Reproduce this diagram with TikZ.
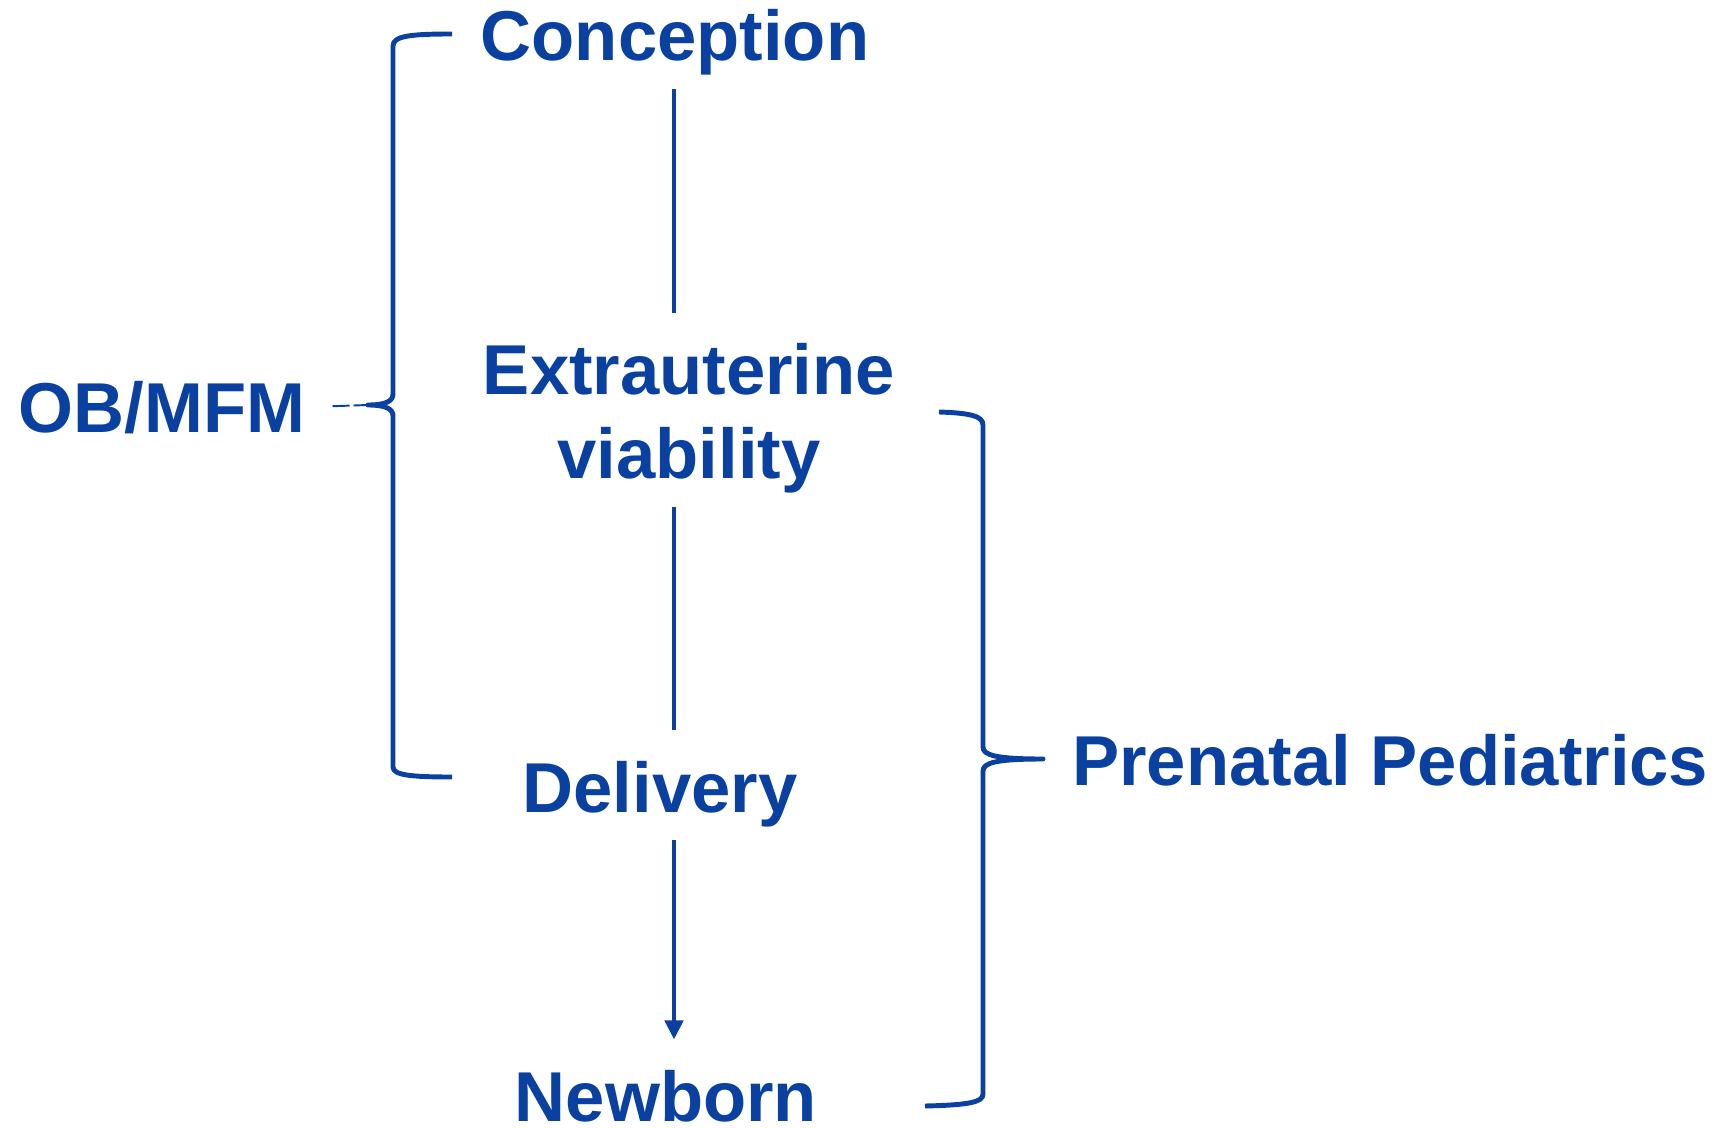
\documentclass[tikz,border=0pt]{standalone}
\usepackage{fontspec}
\setmainfont{Liberation Sans}
\usetikzlibrary{arrows.meta}
\definecolor{obblue}{RGB}{10,65,160}

\begin{document}
\begin{tikzpicture}[x=0.02cm, y=-0.02cm]
  % Styles
  \tikzset{
    stage/.style={inner sep=0pt, text=obblue, align=center,
      font=\fontsize{40.2}{47.8}\selectfont\bfseries},
    link/.style={obblue, line width=2.6pt, shorten <=0.26cm, shorten >=0.6cm},
    brace/.style={obblue, line width=2.8pt, line join=round},
    tick/.style={obblue, line width=1.1pt, dash pattern=on 0.34cm off 0.08cm,
      shorten <=0.54cm},
  }
  \useasboundingbox (0,0) rectangle (1726,1128);

  % Timeline stages
  \node[stage, anchor=base] (concep) at (675,61) {Conception};
  \node[stage, anchor=north] (extra) at (689,343) {Extrauterine\\viability};
  \node[stage, anchor=base] (deliv) at (660,812) {Delivery};
  \node[stage, anchor=base] (newb) at (666,1121) {Newborn};

  % Specialties
  \node[stage, anchor=base] (obmfm) at (162,432) {OB/MFM};
  \node[stage, anchor=base west] (prenat) at (1072,785) {Prenatal Pediatrics};

  % Spine of the timeline
  \coordinate (spine) at (674,0);
  \draw[link] (concep.south -| spine) -- (extra.north -| spine);
  \draw[link] (extra.south -| spine) -- (deliv.north -| spine);
  \draw[link, -{Triangle[width=0.36cm,length=0.38cm]}]
    (deliv.south -| spine) -- (newb.north -| spine);

  % Left brace (conception to delivery)
  \coordinate (ltip) at (368,405);
  \draw[brace] (452,34) .. controls (410,34) and (393,36) .. (393,46)
    -- (393,394) .. controls (393,401) and (386,405) .. (ltip)
    .. controls (386,405) and (393,409) .. (393,416)
    -- (393,767) .. controls (393,775) and (410,777) .. (452,777);
  \draw[tick] (obmfm.east) -- (ltip);

  % Right brace (viability to newborn)
  \coordinate (rtip) at (1043,759);
  \draw[brace] (939,412) .. controls (970,413) and (983,416) .. (983,425)
    -- (983,747) .. controls (983,755) and (995,759) .. (rtip)
    .. controls (995,759) and (983,763) .. (983,771)
    -- (983,1094) .. controls (983,1102) and (970,1105) .. (925,1106);
\end{tikzpicture}
\end{document}
